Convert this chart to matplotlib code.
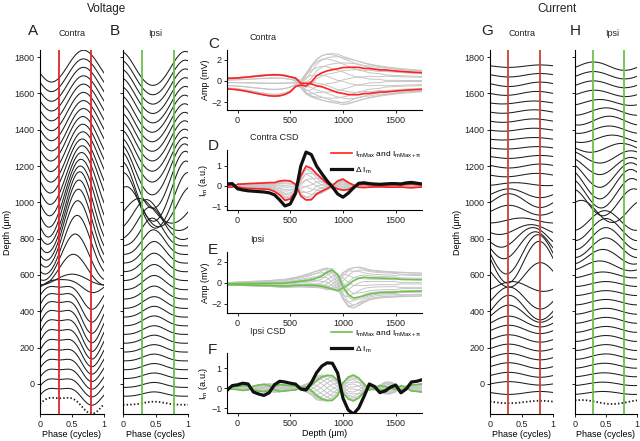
import matplotlib
matplotlib.use('Agg')
import matplotlib.pyplot as plt
import numpy as np

plt.rcParams['font.family'] = ['Liberation Sans', 'DejaVu Sans']
plt.rcParams['mathtext.fontset'] = 'custom'
plt.rcParams['mathtext.rm'] = 'Liberation Sans'
plt.rcParams['mathtext.it'] = 'Liberation Sans'
plt.rcParams['axes.linewidth'] = 0.8

### DONNEES
# profondeurs des traces (um), la premiere est la trace pointillee
depths = np.arange(-100, 1751, 50)
phase_max, phase_pi = 0.29, 0.79

# Voltage contra : amplitude (mV), phase du pic (cycles), offset (mV), forme
cv_amp = [.5, .53, .57, .63, .7, .78, .86, .93, 1.0, 1.02, 1.0, .9, .72, .42, .35, 1.0,
          1.5, 1.9, 2.15, 2.3, 2.35, 2.35, 2.3, 2.2, 2.05, 1.9, 1.75, 1.63, 1.53, 1.44, 1.37,
          1.3, 1.24, 1.19, 1.14, 1.1, 1.06, 1.03]
cv_peak = [.31]*13 + [.33, .5, .52, .55, .58, .59, .6, .61, .62, .63, .64, .65, .66, .66,
                      .67, .67, .67, .68, .68, .68, .68, .68, .68, .68, .68]
cv_off = [-.08]*13 + [-.05, -.3, -.3, -.1, .1, .2, .2, .15, .1, .05] + [0]*15
cv_shape = [-.35]*13 + [-.2, 0, .05, .05, .05, .05, .05, .05, .05] + [0]*16

# Voltage ipsi
iv_amp = [.1, .14, .16, .18, .2, .22, .24, .26, .28, .32, .35, .38, .42, .46, .52, .6, .7,
          .8, .9, 1.05, 1.0, .8, 1.3, 1.8, 1.95, 1.85, 1.65, 1.45, 1.36, 1.3, 1.26, 1.23, 1.2,
          1.18, 1.16, 1.14, 1.12, 1.1]
iv_peak = [.48]*16 + [.48, .47, .45, .42, .36, .25, .05, .0, .97, .96, .95, .95, .95, .95,
                      .95, .95, .95, .96, .96, .96, .96, .96]
iv_off = [-.1]*12 + [-.05, 0, .05, .1, .15, .2, .25, .3, .25, 0, -.35, -.55, -.55, -.4,
                     -.3, -.25, -.22, -.2, -.2, -.2, -.2, -.2, -.2, -.2, -.2, -.2]
iv_shape = [.2]*19 + [.1, .1] + [.05]*17

# Courant contra (u.a.)
ci_amp = [.05, .06, .07, .1, .12, .13, .14, .15, .17, .22, .35, .5, .45, .2, .5, .85, .8,
          .55, .4, .2, .1, .2, .28, .18, .06, .07, .08, .06, .05, .05, .06, .07, .07, .06,
          .08, .09, .07, .05]
ci_peak = [.8, .8, .3, .3, .3, .3, .3, .3, .3, .3, .3, .3, .3, .35, .8, .78, .76, .72, .68,
           .65, .5, .3, .3, .3, .4, .75, .8, .8, .75, .7, .7, .7, .7, .7, .75, .8, .8, .8]
ci_off = [0, 0, .02, 0, 0, 0, 0, 0, 0, -.05, -.1, -.22, -.2, -.1, 0, .15, .1, .1, .05, 0, 0,
          .05, .07, 0, 0, 0, 0, 0, 0, 0, 0, 0, 0, 0, 0, 0, 0, 0]

# Courant ipsi, profil CSD (u.a.)
ii_amp = [.06, .06, .08, .12, .1, .1, .15, .2, .22, .22, .2, .15, .12, .1, .1, .2, .35, .6,
          .65, .65, .62, .4, .3, .55, .65, .5, .25, .1, .1, .15, .3, .3, .2, .12, .1, .15,
          .18, .22]
ii_peak = [.3, .8, .8, .8, .8, .3, .3, .35, .45, .6, .7, .8, .8, .75, .5, .5, .6, .65, .7,
           .75, .8, .85, .2, .3, .3, .28, .2, .8, .6, .4, .5, .55, .6, .3, .5, .8, .85, .85]
ii_off = [0]*38

# Courant ipsi, traces du panneau H (u.a.)
hi_amp = [.08, .06, .07, .08, .1, .11, .12, .12, .12, .12, .12, .11, .1, .1, .12, .2, .3,
          .4, .45, .45, .4, .45, .55, .6, .6, .5, .35, .25, .18, .15, .15, .18, .15, .12,
          .13, .14, .15, .17]
hi_peak = [.1, .45, .45, .47, .48, .5, .5, .5, .5, .5, .5, .5, .5, .5, .45, .4, .45, .5,
           .5, .5, .48, .1, .95, .92, .9, .9, .9, .9, .75, .6, .55, .55, .5, .4, .32, .3,
           .3, .3]

k_v = 85    # echelle d'affichage des traces de voltage (um / mV)
k_i = 135   # echelle des traces de courant (um / u.a.)

RED = '#e0262b'
GREEN = '#6cc24a'
GREY = '#c6c6c6'
TRACE = '#1e1e1e'


### FONCTIONS
def onde(phase, amp, peak, off, shape):
    # forme d'onde sur un cycle : fondamentale + harmonique 2
    amp, peak, off, shape = map(np.asarray, (amp, peak, off, shape))
    th = 2*np.pi*(phase - peak)
    return off + amp*(np.cos(th) + shape*np.cos(2*th))


def panneau_traces(ax, amp, peak, off, shape, k, col, labels=True):
    ph = np.linspace(0, 1, 121)
    for i, d in enumerate(depths):
        y = d + k*onde(ph, amp[i], peak[i], off[i], shape[i])
        if i == 0:
            ax.plot(ph, y, color=TRACE, lw=1.3, ls=(0, (0.8, 1.2)))
        else:
            ax.plot(ph, y, color=TRACE, lw=0.75)
    ax.axvline(phase_max, color=col, lw=1.3)
    ax.axvline(phase_pi, color=col, lw=1.3)
    ax.set_xlim(0, 1)
    ax.set_ylim(-166, 1839)
    ax.set_xticks([0, 0.5, 1])
    ax.set_xticklabels(['0', '0.5', '1'])
    ax.set_yticks(np.arange(0, 1801, 200))
    if not labels:
        ax.set_yticklabels([])
    ax.set_xlabel('Phase (cycles)', fontsize=6.5, labelpad=1)
    style(ax)


def panneau_profil(ax, amp, peak, off, shape, col, ylim, yticks, csd=False):
    for j in range(16):
        ax.plot(depths, onde(j/16, amp, peak, off, shape), color=GREY, lw=0.7)
    r1 = onde(phase_max, amp, peak, off, shape)
    r2 = onde(phase_pi, amp, peak, off, shape)
    ax.plot(depths, r1, color=col, lw=1.2)
    ax.plot(depths, r2, color=col, lw=1.2)
    if csd:
        ax.plot(depths, r2 - r1, color='#111111', lw=2.3)
    ax.set_xlim(-100, 1750)
    ax.set_ylim(*ylim)
    ax.set_xticks([0, 500, 1000, 1500])
    ax.set_yticks(yticks)
    style(ax)


def style(ax):
    ax.spines['top'].set_visible(False)
    ax.spines['right'].set_visible(False)
    ax.tick_params(labelsize=6.5, length=2.5, width=0.7, pad=1.5, colors='#222222')


### FIGURE
fig = plt.figure(figsize=(6.4, 4.41), dpi=100)
W, H = 640, 441


def axe(x0, y0, x1, y1):
    # coordonnees en pixels (origine en haut a gauche)
    return fig.add_axes([x0/W, 1 - y1/H, (x1 - x0)/W, (y1 - y0)/H])


ax_a = axe(40, 50, 104, 414)
ax_b = axe(123, 50, 188, 414)
ax_g = axe(490, 50, 553, 414)
ax_h = axe(575, 50, 637, 414)
ax_c = axe(227, 50, 422, 110)
ax_d = axe(227, 150, 422, 210)
ax_e = axe(227, 252, 422, 313)
ax_f = axe(227, 353, 422, 413)

zeros = [0]*38
panneau_traces(ax_a, cv_amp, cv_peak, cv_off, cv_shape, k_v, RED)
panneau_traces(ax_b, iv_amp, iv_peak, iv_off, iv_shape, k_v, GREEN, labels=False)
panneau_traces(ax_g, ci_amp, ci_peak, ci_off, zeros, k_i, '#c8403c')
panneau_traces(ax_h, hi_amp, hi_peak, zeros, zeros, k_i, GREEN, labels=False)
ax_a.set_ylabel('Depth (\u03bcm)', fontsize=6.5, labelpad=2)
ax_g.set_ylabel('Depth (\u03bcm)', fontsize=6.5, labelpad=2)

panneau_profil(ax_c, cv_amp, cv_peak, cv_off, cv_shape, '#ff2020', (-2.76, 2.95), [-2, 0, 2])
panneau_profil(ax_d, ci_amp, ci_peak, ci_off, zeros, '#ff2020', (-1.2, 1.8), [-1, 0, 1], csd=True)
panneau_profil(ax_e, iv_amp, iv_peak, iv_off, iv_shape, GREEN, (-2.86, 2.95), [-2, 0, 2])
panneau_profil(ax_f, ii_amp, ii_peak, ii_off, zeros, GREEN, (-1.25, 1.75), [-1, 0, 1], csd=True)
for ax in (ax_c, ax_e):
    ax.set_ylabel('Amp (mV)', fontsize=6.5, labelpad=1)
for ax in (ax_d, ax_f):
    ax.set_ylabel(r'I$_{\rm m}$ (a.u.)', fontsize=6.5, labelpad=1)
ax_f.set_xlabel('Depth (\u03bcm)', fontsize=6.5, labelpad=1)

# legendes
for ax, col, y0 in ((ax_d, '#ff2020', 1.08), (ax_f, GREEN, 1.48)):
    ax.plot([], [], color=col, lw=1.2, label=r'I$_{\rm mMax}$ and I$_{\rm mMax+\pi}$')
    ax.plot([], [], color='#111111', lw=2.3, label=r'$\Delta$ I$_{\rm m}$')
    ax.legend(loc='upper right', bbox_to_anchor=(1.02, y0), frameon=False, fontsize=6,
              handlelength=2.6, handletextpad=0.3, labelspacing=0.7, borderpad=0)

# textes
def txt(x, y, s, size, **kw):
    fig.text(x/W, 1 - y/H, s, fontsize=size, va='center', color='#222222', **kw)

txt(107, 9, 'Voltage', 8.5, ha='center')
txt(557, 9, 'Current', 8.5, ha='center')
for x, s in ((33, 'A'), (115, 'B'), (487, 'G'), (575, 'H')):
    txt(x, 31, s, 11, ha='center')
for x, s in ((72, 'Contra'), (155, 'Ipsi'), (522, 'Contra'), (612, 'Ipsi')):
    txt(x, 33, s, 6.5, ha='center')
for y, s in ((44, 'C'), (146, 'D'), (250, 'E'), (350, 'F')):
    txt(208, y, s, 11, ha='left')
for y, s in ((37, 'Contra'), (138, 'Contra CSD'), (239, 'Ipsi'), (331, 'Ipsi CSD')):
    txt(250, y, s, 6.5, ha='left')

fig.savefig('out.png', dpi=100)
